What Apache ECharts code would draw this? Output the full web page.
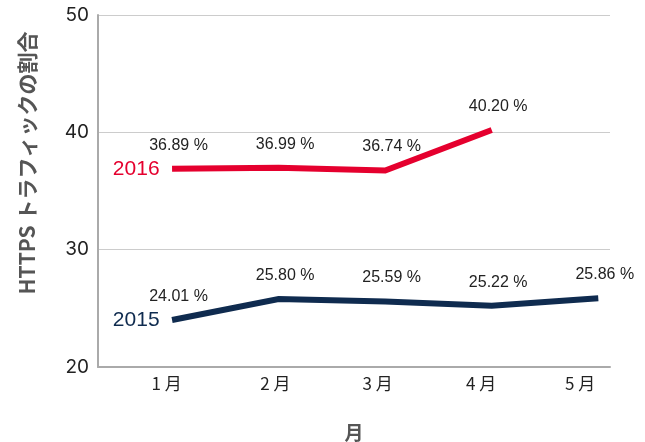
<!DOCTYPE html>
<html>
<head>
    <meta charset="UTF-8">
    <title>HTTPS トラフィックの割合</title>
    <script src="https://cdn.jsdelivr.net/npm/echarts@6/dist/echarts.min.js"></script>
    <style>
        body { margin: 0; background: #fff; }
        #chart { width: 645px; height: 442px; }
    </style>
</head>
<body>
    <div id="chart"></div>
    <script>
        // 月（x位置）とラベル
        var months = [1, 2, 3, 4, 5];
        var monthLabels = ['1 月', '2 月', '3 月', '4 月', '5 月'];
        var labelPos = [0.95, 1.97, 2.93, 3.9, 4.83];

        // 系列データ（%）
        var names = ['2016', '2015'];
        var values2016 = [36.89, 36.99, 36.74, 40.20];
        var values2015 = [24.01, 25.80, 25.59, 25.22, 25.86];
        var colors = ['#e5002e', '#0f2b4f'];

        var yTicks = [20, 30, 40, 50];

        function pairs(vals) {
            return vals.map(function (v, i) { return [months[i], v]; });
        }

        function makeSeries(name, vals, color) {
            var data = pairs(vals);
            return {
                name: name,
                type: 'line',
                data: data,
                symbol: 'circle',
                symbolSize: 1,
                showSymbol: true,
                itemStyle: { color: 'transparent', borderWidth: 0 },
                lineStyle: { width: 6, color: color, cap: 'butt', join: 'miter' },
                label: {
                    show: true,
                    // 点の少し右上に置く
                    position: [7, -15],
                    align: 'center',
                    verticalAlign: 'bottom',
                    color: '#222',
                    fontSize: 16,
                    fontFamily: 'Liberation Sans',
                    formatter: function (p) { return p.value[1].toFixed(2) + ' %'; }
                },
                labelLayout: { hideOverlap: false },
                markPoint: {
                    symbol: 'circle',
                    symbolSize: 1,
                    itemStyle: { color: 'transparent' },
                    label: {
                        show: true,
                        position: 'left',
                        distance: 12,
                        color: color,
                        fontSize: 21,
                        fontFamily: 'Liberation Sans',
                        formatter: name
                    },
                    data: [{ coord: data[0] }]
                }
            };
        }

        var chart = echarts.init(document.getElementById('chart'));
        chart.setOption({
            animation: false,
            grid: { left: 98, right: 35, top: 15, bottom: 75, outerBoundsMode: 'none' },
            xAxis: {
                type: 'value',
                min: 0.305,
                max: 5.11,
                name: '月',
                nameLocation: 'middle',
                nameGap: 56,
                nameTextStyle: { color: '#555', fontSize: 19, fontWeight: 'bold', fontFamily: 'Noto Sans CJK JP' },
                axisLine: { show: true, lineStyle: { color: '#aaa', width: 2 } },
                axisTick: { show: false },
                splitLine: { show: false },
                axisLabel: {
                    customValues: labelPos,
                    margin: 8,
                    color: '#222',
                    fontSize: 17,
                    fontFamily: 'Noto Sans CJK JP',
                    formatter: function (v) {
                        var i = labelPos.indexOf(v);
                        return i >= 0 ? monthLabels[i] : '';
                    }
                }
            },
            yAxis: {
                type: 'value',
                min: yTicks[0],
                max: yTicks[yTicks.length - 1],
                interval: 10,
                name: 'HTTPS トラフィックの割合',
                nameLocation: 'middle',
                nameGap: 60,
                nameTextStyle: {
                    color: '#555', fontSize: 21, fontWeight: 'bold',
                    fontFamily: 'Noto Sans CJK JP', padding: [0, 0, 0, 56]
                },
                axisLine: { show: true, lineStyle: { color: '#aaa', width: 2 } },
                axisTick: { show: false },
                splitLine: { show: true, lineStyle: { color: '#ccc', width: 1 } },
                axisLabel: { color: '#222', fontSize: 19, margin: 9, fontFamily: 'Inter' }
            },
            series: [
                makeSeries(names[0], values2016, colors[0]),
                makeSeries(names[1], values2015, colors[1])
            ]
        });
    </script>
</body>
</html>
